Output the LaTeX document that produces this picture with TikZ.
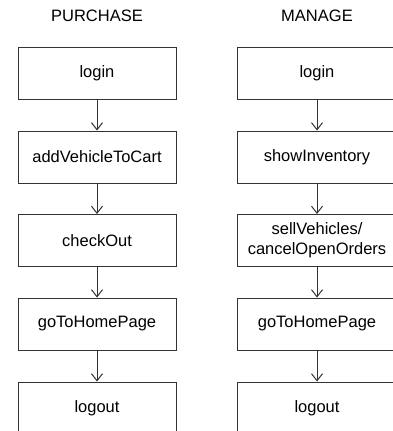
\documentclass[tikz,border=0pt]{standalone}
\usepackage{fontspec}
\setmainfont{Liberation Sans}
\usetikzlibrary{arrows.meta}
\begin{document}
\begin{tikzpicture}[x=1pt,y=1pt,
  box/.style={draw=black!80, line width=1pt, minimum height=52pt, align=center, font=\fontsize{16.5}{20}\selectfont, inner sep=0pt},
  lbox/.style={box, minimum width=158pt},
  rbox/.style={box, minimum width=160pt},
  ttl/.style={font=\fontsize{16.5}{20}\selectfont},
  flow/.style={draw=black!80, line width=1pt, -{Straight Barb[length=7pt,width=11pt,line width=1pt]}}]
\useasboundingbox (0,0) rectangle (393,-431);
\node[ttl] (tp) at (97,-16) {PURCHASE};
\node[ttl] (tm) at (317,-16) {MANAGE};
\node[lbox] (l1) at (97,-73) {login};
\node[lbox] (l2) at (97,-157) {addVehicleToCart};
\node[lbox] (l3) at (97,-240.5) {checkOut};
\node[lbox] (l4) at (97,-324) {goToHomePage};
\node[lbox] (l5) at (97,-408) {logout};
\node[rbox] (r1) at (317,-73) {login};
\node[rbox] (r2) at (317,-157) {showInventory};
\node[rbox] (r3) at (317,-240.5) {sellVehicles/\\cancelOpenOrders};
\node[rbox] (r4) at (317,-324) {goToHomePage};
\node[rbox] (r5) at (317,-408) {logout};
\foreach \a/\b in {l1/l2,l2/l3,l3/l4,l4/l5,r1/r2,r2/r3,r3/r4,r4/r5}
  \draw[flow] (\a) -- (\b);
\end{tikzpicture}
\end{document}
